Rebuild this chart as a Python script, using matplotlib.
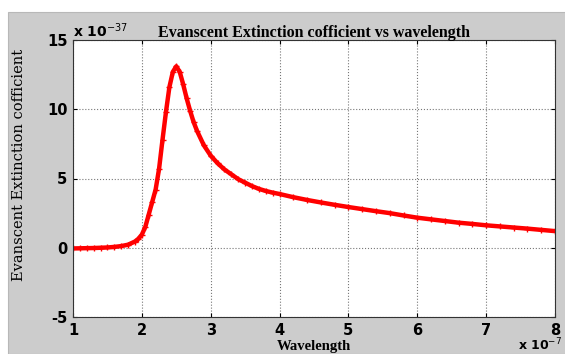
import matplotlib.pyplot as plt
from matplotlib.patches import Rectangle

plt.rcParams['axes.unicode_minus'] = False

# wavelength (x 1e-7) and coefficient (x 1e-37)
wavelength = [1.0, 1.1, 1.2, 1.3, 1.4, 1.5, 1.6, 1.7, 1.8, 1.9, 1.95, 2.0, 2.05,
              2.1, 2.15, 2.2, 2.25, 2.3, 2.35, 2.4, 2.45, 2.5, 2.55, 2.6, 2.65,
              2.7, 2.75, 2.8, 2.9, 3.0, 3.1, 3.2, 3.3, 3.4, 3.5, 3.6, 3.7, 3.8,
              3.9, 4.0, 4.2, 4.4, 4.6, 4.8, 5.0, 5.2, 5.4, 5.6, 5.8, 6.0, 6.2,
              6.4, 6.6, 6.8, 7.0, 7.2, 7.4, 7.6, 7.8, 8.0]
coeff = [-0.05, -0.04, -0.03, -0.02, 0.0, 0.02, 0.06, 0.12, 0.22, 0.45, 0.65,
         0.95, 1.5, 2.4, 3.3, 4.2, 5.7, 7.8, 9.8, 11.6, 12.7, 13.1, 12.7, 11.8,
         10.8, 9.9, 9.1, 8.45, 7.4, 6.65, 6.1, 5.65, 5.3, 4.95, 4.7, 4.45,
         4.25, 4.1, 3.98, 3.88, 3.65, 3.45, 3.27, 3.1, 2.94, 2.79, 2.64, 2.5,
         2.33, 2.17, 2.05, 1.93, 1.81, 1.72, 1.62, 1.54, 1.46, 1.38, 1.29, 1.2]
xticks = [1, 2, 3, 4, 5, 6, 7, 8]
yticks = [-5, 0, 5, 10, 15]

tick_font = ['DejaVu Sans']
serif = ['Liberation Serif', 'DejaVu Serif']

fig = plt.figure(figsize=(5.65, 3.54), dpi=100, facecolor='white')
fig.patches.append(Rectangle((8 / 565, 0), 1, (354 - 12) / 354, transform=fig.transFigure,
                             facecolor='#cccccc', edgecolor='#b8b8b8', lw=0.8, zorder=-5))

ax = fig.add_axes([73 / 565, 37 / 354, 482 / 565, 277 / 354])
ax.plot(wavelength, coeff, color='red', lw=3.2, marker='+', ms=4, mew=1)
ax.set_xlim(1, 8)
ax.set_ylim(-5, 15)
ax.set_xticks(xticks)
ax.set_yticks(yticks)
ax.grid(True, linestyle=':', color='#777777', lw=0.8)
ax.tick_params(direction='in', length=3, top=True, right=True, pad=4)
for lab in ax.get_xticklabels() + ax.get_yticklabels():
    lab.set_family(tick_font)
    lab.set_fontweight('bold')
    lab.set_fontsize(10.5)
for s in ax.spines.values():
    s.set_color('#333333')
    s.set_linewidth(0.8)

ax.set_title('Evanscent Extinction cofficient vs wavelength', family=serif,
             fontweight='bold', fontsize=11.5, pad=2)
ax.set_xlabel('Wavelength', family=serif, fontweight='bold', fontsize=10.5, labelpad=2)
ax.set_ylabel('Evanscent Extinction cofficient', family=['DejaVu Serif'], fontsize=10.5)
ax.yaxis.set_label_coords(-0.098, 0.55)

fig.text(73 / 565, (354 - 40) / 354, 'x 10$^{-37}$', family=tick_font, fontweight='bold',
         fontsize=10, ha='left', va='bottom')
fig.text(562 / 565, 1 / 354, 'x 10$^{-7}$', family=tick_font, fontweight='bold',
         fontsize=9, ha='right', va='bottom')

fig.savefig('out.png', dpi=100, facecolor=fig.get_facecolor())
